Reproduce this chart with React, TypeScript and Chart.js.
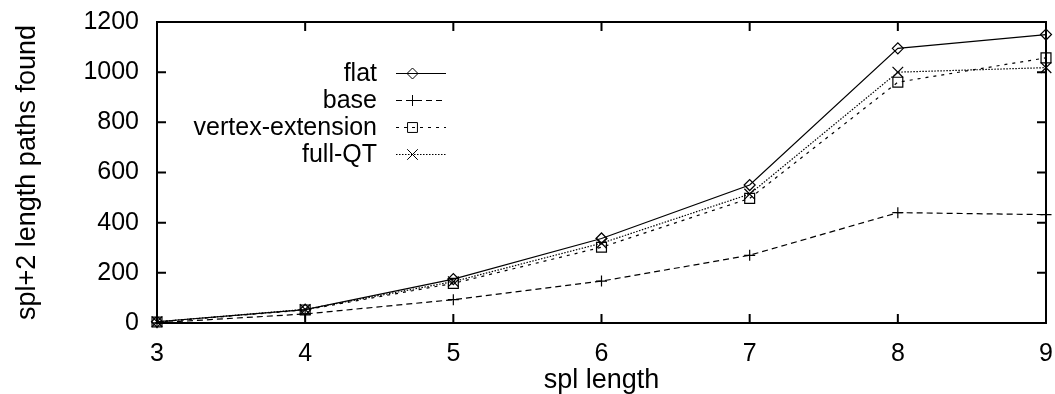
import React, { useEffect, useRef } from 'react';
import { Chart, registerables } from 'chart.js';

Chart.register(...registerables);

const splLengths = [3, 4, 5, 6, 7, 8, 9];
const flatPaths = [5, 53, 175, 337, 550, 1095, 1150];
const basePaths = [1, 36, 93, 167, 270, 440, 432];
const vertexExtensionPaths = [4, 52, 158, 302, 497, 960, 1057];
const fullQTPaths = [5, 54, 165, 318, 514, 1000, 1018];

const seriesNames = ['flat', 'base', 'vertex-extension', 'full-QT'];
const xTickValues = [3, 4, 5, 6, 7, 8, 9];
const yTickValues = [0, 200, 400, 600, 800, 1000, 1200];

const FONT = '"Liberation Sans", Arial, Helvetica, sans-serif';

type Marker = 'rectRot' | 'cross' | 'rect' | 'crossRot';

function drawMarker(ctx: CanvasRenderingContext2D, m: Marker, x: number, y: number, r: number) {
  ctx.beginPath();
  if (m === 'rectRot') {
    ctx.moveTo(x, y - r);
    ctx.lineTo(x + r, y);
    ctx.lineTo(x, y + r);
    ctx.lineTo(x - r, y);
    ctx.closePath();
  } else if (m === 'cross') {
    ctx.moveTo(x - r, y);
    ctx.lineTo(x + r, y);
    ctx.moveTo(x, y - r);
    ctx.lineTo(x, y + r);
  } else if (m === 'rect') {
    const s = r * Math.SQRT1_2;
    ctx.rect(x - s, y - s, 2 * s, 2 * s);
  } else {
    const s = r * Math.SQRT1_2;
    ctx.moveTo(x - s, y - s);
    ctx.lineTo(x + s, y + s);
    ctx.moveTo(x + s, y - s);
    ctx.lineTo(x - s, y + s);
  }
  ctx.stroke();
}

const frameTicksPlugin = {
  id: 'frameTicks',
  beforeDatasetsDraw(chart: any) {
    const { ctx, chartArea: a, scales } = chart;
    ctx.save();
    ctx.strokeStyle = '#000';
    ctx.lineWidth = 2;
    ctx.setLineDash([]);
    ctx.strokeRect(a.left, a.top, a.right - a.left, a.bottom - a.top);
    const tl = 9;
    ctx.beginPath();
    for (const v of xTickValues) {
      const px = scales.x.getPixelForValue(v);
      ctx.moveTo(px, a.bottom);
      ctx.lineTo(px, a.bottom - tl);
      ctx.moveTo(px, a.top);
      ctx.lineTo(px, a.top + tl);
    }
    for (const v of yTickValues) {
      const py = scales.y.getPixelForValue(v);
      ctx.moveTo(a.left, py);
      ctx.lineTo(a.left + tl, py);
      ctx.moveTo(a.right, py);
      ctx.lineTo(a.right - tl, py);
    }
    ctx.stroke();
    ctx.restore();
  },
};

const keyPlugin = {
  id: 'gnuKey',
  afterDraw(chart: any) {
    const { ctx } = chart;
    const textRight = 377;
    const lineStart = 396;
    const lineEnd = 446;
    const markX = 412;
    const rowTop = 72.5;
    const rowStep = 27.3;
    ctx.save();
    ctx.font = `25px ${FONT}`;
    ctx.fillStyle = '#000';
    ctx.textAlign = 'right';
    ctx.textBaseline = 'middle';
    chart.data.datasets.forEach((ds: any, i: number) => {
      const y = Math.round(rowTop + i * rowStep) + 0.5;
      ctx.fillText(ds.label, textRight, y + 1);
      ctx.strokeStyle = '#000';
      ctx.lineWidth = 1;
      ctx.setLineDash(ds.borderDash || []);
      ctx.beginPath();
      ctx.moveTo(lineStart, y);
      ctx.lineTo(lineEnd, y);
      ctx.stroke();
      ctx.setLineDash([]);
      drawMarker(ctx, ds.pointStyle, markX + 0.5, y, ds.pointRadius);
    });
    ctx.restore();
  },
};

function toPoints(vals: number[]) {
  return vals.map((v, i) => ({ x: splLengths[i], y: v }));
}

export default function App() {
  const ref = useRef<HTMLCanvasElement | null>(null);

  useEffect(() => {
    document.body.style.margin = '0';
    const canvas = ref.current;
    if (!canvas) return;
    const common = {
      borderColor: '#000',
      pointBorderColor: '#000',
      backgroundColor: 'rgba(0,0,0,0)',
      pointBackgroundColor: 'rgba(0,0,0,0)',
      borderWidth: 1.2,
      pointBorderWidth: 1.2,
      tension: 0,
      fill: false,
      clip: false as any,
    };
    const chart = new Chart(canvas, {
      type: 'line',
      data: {
        datasets: [
          { ...common, label: seriesNames[0], data: toPoints(flatPaths), pointStyle: 'rectRot', pointRadius: 5.5, borderDash: [] },
          { ...common, label: seriesNames[1], data: toPoints(basePaths), pointStyle: 'cross', pointRadius: 5.5, borderDash: [6, 4] },
          { ...common, label: seriesNames[2], data: toPoints(vertexExtensionPaths), pointStyle: 'rect', pointRadius: 7, borderDash: [3, 5] },
          { ...common, label: seriesNames[3], data: toPoints(fullQTPaths), pointStyle: 'crossRot', pointRadius: 7.5, borderDash: [1.5, 1.5] },
        ] as any,
      },
      options: {
        animation: false,
        responsive: false,
        maintainAspectRatio: false,
        layout: { padding: { top: 22, right: 9, left: 0, bottom: 0 } },
        plugins: { legend: { display: false }, tooltip: { enabled: false } },
        scales: {
          x: {
            type: 'linear',
            min: 3,
            max: 9,
            afterBuildTicks: (s: any) => {
              s.ticks = xTickValues.map((v) => ({ value: v }));
            },
            afterFit: (s: any) => {
              s.height = 71;
              s.paddingLeft = 0;
              s.paddingRight = 0;
            },
            ticks: {
              color: '#000',
              font: { family: FONT, size: 25 },
              padding: 16,
              maxRotation: 0,
              autoSkip: false,
              callback: (v: any) => String(v),
            },
            grid: { display: false, drawTicks: false },
            border: { display: false },
            title: {
              display: true,
              text: 'spl length',
              color: '#000',
              font: { family: FONT, size: 27 },
              padding: { top: 0, bottom: -3 },
            },
          },
          y: {
            min: 0,
            max: 1200,
            afterBuildTicks: (s: any) => {
              s.ticks = yTickValues.map((v) => ({ value: v }));
            },
            afterFit: (s: any) => {
              s.width = 157;
              s.paddingTop = 0;
              s.paddingBottom = 0;
            },
            ticks: {
              color: '#000',
              font: { family: FONT, size: 25 },
              padding: 18,
              autoSkip: false,
              callback: (v: any) => String(v),
            },
            grid: { display: false, drawTicks: false },
            border: { display: false },
            title: {
              display: true,
              text: 'spl+2 length paths found',
              color: '#000',
              font: { family: FONT, size: 27 },
              padding: { top: 11, bottom: 0 },
            },
          },
        },
      },
      plugins: [frameTicksPlugin, keyPlugin],
    });
    return () => chart.destroy();
  }, []);

  return <canvas ref={ref} width={1055} height={394} style={{ display: 'block' }} />;
}
